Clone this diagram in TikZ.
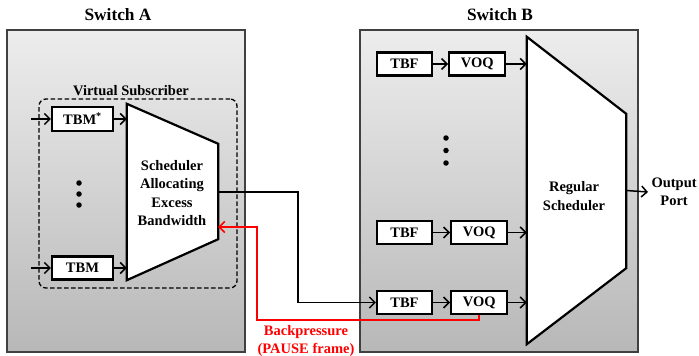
\documentclass[tikz,border=0pt]{standalone}
\usepackage{fontspec}
\setmainfont{Liberation Serif}
\usetikzlibrary{arrows.meta,positioning}

\begin{document}
\begin{tikzpicture}[
  x=1pt, y=-1pt,
  font=\bfseries\fontsize{14.5}{18.3}\selectfont,
  switch/.style={draw=black!75, line width=1.2pt, rectangle, inner sep=0pt,
                 top color=black!7, bottom color=black!28},
  title/.style={font=\bfseries\fontsize{17.3}{20}\selectfont},
  vsbox/.style={draw=black, dash pattern=on 4.5pt off 2.5pt, line width=1.3pt,
                rounded corners=7pt, rectangle,
                minimum width=198pt, minimum height=189pt},
  box/.style={draw=black, line width=2.2pt, fill=white, rectangle,
              minimum width=56pt, minimum height=23pt, inner sep=0pt},
  sched/.style={draw=black, line width=2.2pt, fill=white},
  arrow/.style={-{Straight Barb[length=5.5pt, width=11pt]}, line width=1.5pt},
  dot/.style={circle, fill=black, inner sep=0pt, minimum size=5.5pt},
]
  \useasboundingbox (0,0) rectangle (699,356);

  \node[switch, minimum width=238pt, minimum height=322pt] (swA) at (126,191) {};
  \node[switch, minimum width=278pt, minimum height=322pt] (swB) at (499,191) {};
  \node[title] (swAlabel) at (118,15) {Switch A};
  \node[title] (swBlabel) at (500,15) {Switch B};

  \node[vsbox] (vsub) at (138,193.5) {};
  \node (vslabel) at (131,91) {Virtual Subscriber};

  \node[minimum width=91pt, minimum height=176pt] (schedA) at (172.5,192) {};
  \draw[sched] (schedA.north west) -- ([yshift=-40pt]schedA.north east)
    -- ([yshift=41pt]schedA.south east) -- (schedA.south west) -- cycle;
  \node[align=center] (schedAtext) at (172,193) {Scheduler\\Allocating\\Excess\\Bandwidth};

  \node[box, minimum width=61pt, minimum height=24pt] (tbm1) at (82.5,119) {TBM\textsuperscript{*}};
  \node[box, minimum width=61pt] (tbm2) at (82.5,268) {TBM};
  \coordinate (inA1) at (31,119);
  \coordinate (inA2) at (31,268);
  \draw[arrow] (inA1) -- (tbm1);
  \draw[arrow] (inA2) -- (tbm2);
  \draw[arrow] (tbm1) -- (tbm1 -| schedA.west);
  \draw[arrow] (tbm2) -- (tbm2 -| schedA.west);
  \foreach \y [count=\i] in {183,194,205}
    \node[dot] (dotA\i) at (79,\y) {};

  \node[minimum width=99pt, minimum height=307pt] (schedB) at (576.5,190.5) {};
  \draw[sched] (schedB.north west) -- ([yshift=-77pt]schedB.north east)
    -- ([yshift=76pt]schedB.south east) -- (schedB.south west) -- cycle;
  \node[align=center] (schedBtext) at (574,196) {Regular\\Scheduler};

  \node[box, minimum width=55pt] (tbf1) at (404.5,64) {TBF};
  \node[box, right=15pt of tbf1] (voq1) {VOQ};
  \node[box, minimum width=55pt] (tbf2) at (404.5,232.5) {TBF};
  \node[box, right=17pt of tbf2] (voq2) {VOQ};
  \node[box, minimum width=55pt] (tbf3) at (404.5,302.5) {TBF};
  \node[box, right=17pt of tbf3] (voq3) {VOQ};
  \draw[arrow] (tbf1) -- (voq1);
  \draw[arrow] (tbf2) -- (voq2);
  \draw[arrow] (tbf3) -- (voq3);
  \draw[arrow] (voq1) -- (voq1 -| schedB.west);
  \draw[arrow] (voq2) -- (voq2 -| schedB.west);
  \draw[arrow] (voq3) -- (voq3 -| schedB.west);
  \foreach \y [count=\i] in {138,150.5,163}
    \node[dot] (dotB\i) at (446,\y) {};

  \coordinate (outpt) at (648,192);
  \draw[arrow] (schedB.east) -- (outpt);
  \node[align=center, right=0pt of outpt] (outlabel) {Output\\Port};

  \draw[arrow] (schedA.east) -- ++(80,0) |- (tbf3.west);

  \coordinate (bpturn) at (257,320);
  \draw[arrow, red] (voq3.south) |- (bpturn) |- ([yshift=-35pt]schedA.east);
  \node[align=center, text=red] (bplabel) at (306,341) {Backpressure\\(PAUSE frame)};
\end{tikzpicture}
\end{document}
